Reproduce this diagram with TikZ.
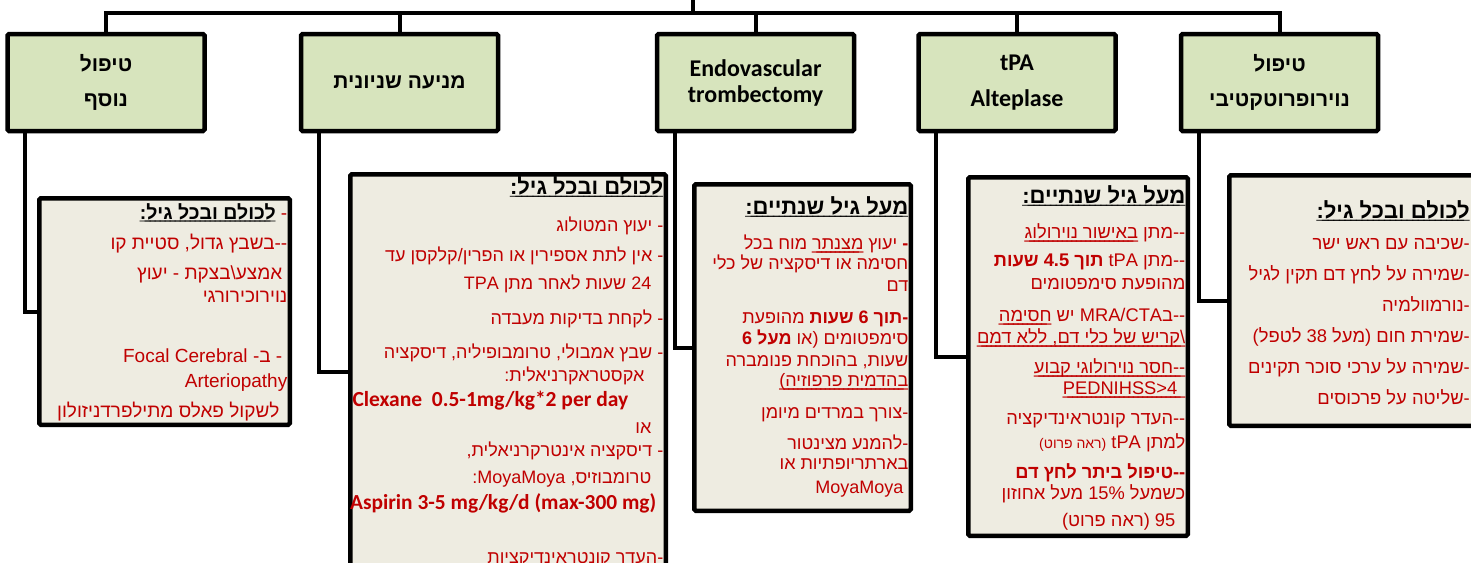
\documentclass[tikz,border=0pt]{standalone}
\usepackage{fontspec}
\setmainfont{Liberation Sans}
\newfontfamily\hebred[Script=Hebrew, Color=C00000]{Liberation Sans}
\newfontfamily\hebblack[Script=Hebrew, Color=010101]{Liberation Sans}
\newfontfamily\calred[Color=C00000]{Carlito}
\newfontfamily\calblack[Color=010101]{Carlito}
\TeXXeTstate=1
\usetikzlibrary{positioning}

\definecolor{headgreen}{HTML}{D7E4BD}
\definecolor{notegray}{HTML}{EEECE1}

\newsavebox\ulbox
\newcommand{\rl}[1]{\beginR #1\endR}
\newcommand{\lr}[1]{\beginL #1\endL}
% underline drawn with the font's own underscore, so it takes the text colour
\newcommand{\uln}[1]{\setbox\ulbox=\hbox{\rl{#1}}\hbox{\rlap{\hbox to\dimexpr\wd\ulbox-0.3em\relax{\xleaders\hbox to 0.25em{\_\hss}\hfill}}\box\ulbox}}
\newcommand{\headln}[2][22]{\hbox{\hebblack\bfseries\fontsize{#1}{#1}\selectfont\uln{#2}}}

\tikzset{
  headbox/.style={draw, line width=4.5pt, fill=headgreen, rounded corners=1.5pt,
    minimum width=197pt, minimum height=97pt, align=center,
    font={\hebblack\bfseries\fontsize{21}{35}\selectfont}},
  notebox/.style={draw, line width=4.5pt, fill=notegray, rounded corners=1.5pt},
  notetext/.style={anchor=north east, inner sep=0pt, align=right},
  link/.style={line width=4pt}
}

\begin{document}
\begin{tikzpicture}[x=1pt, y=-1pt]
\useasboundingbox (0,0) rectangle (1471,562);

% header row
\node[headbox] (nosaf) at (106,82.5) {\rl{טיפול}\\\rl{נוסף}};
\node[headbox] (shniyonit) at (399.5,82.5) {\rl{מניעה שניונית}};
\node[headbox, font={\calblack\bfseries\fontsize{24}{26}\selectfont}] (endo) at (755.5,82.5) {Endovascular\\trombectomy};
\node[headbox, font={\calblack\bfseries\fontsize{24}{36}\selectfont}] (tpa) at (1017,82.5) {tPA\\Alteplase};
\node[headbox] (neuro) at (1279.5,82.5) {\rl{טיפול}\\\rl{נוירופרוטקטיבי}};

% bus on top
\coordinate (root) at (693,0);
\coordinate (bus) at (0,12.5);
\draw[link] (nosaf.north) -- (nosaf.north |- bus) -| (neuro.north);
\foreach \n in {shniyonit,endo,tpa}
  \draw[link] (\n.north) -- (\n.north |- bus);
\draw[link] (root) -- (root |- bus);

% note boxes
\node[notebox, minimum width=250.5pt, minimum height=226.5pt] (nosafnote) at (164.5,311.5) {};
\node[notebox, minimum width=315.5pt, minimum height=395.5pt] (shniyonitnote) at (508,372) {};
\node[notebox, minimum width=216.5pt, minimum height=326.5pt] (endonote) at (802.5,347.5) {};
\node[notebox, minimum width=219.5pt, minimum height=358.5pt] (tpanote) at (1078,356.5) {};
\node[notebox, minimum width=244.5pt, minimum height=250.5pt] (neuronote) at (1351.5,300.5) {};

\foreach \n in {nosaf,shniyonit,endo,tpa,neuro}
  \draw[link] ([xshift=20pt]\n.south west) |- (\n note.west);

% texts
\node[notetext, font={\hebred\fontsize{19}{23}\selectfont\lineskiplimit=-100pt}] (nosaftext) at ([xshift=-4.5pt, yshift=-7pt]nosafnote.north east) {%
\rl{- \headln[19.5]{לכולם ובכל גיל:}}\\[7pt]
\rl{--בשבץ גדול, סטיית קו}\\[7pt]
\rl{אמצע\textbackslash בצקת - יעוץ}\kern5pt\\
\rl{נוירוכירורגי}\\[37pt]
\rl{- ב- \lr{Focal Cerebral}}\kern5pt\\[2pt]
\rl{Arteriopathy}\\[7pt]
\rl{לשקול פאלס מתילפרדניזולון}\kern8pt};

\node[notetext, font={\hebred\fontsize{18}{24}\selectfont\lineskiplimit=-100pt}] (shniyonittext) at ([xshift=-4.5pt, yshift=-4pt]shniyonitnote.north east) {%
\rl{\headln{לכולם ובכל גיל:}}\\[13pt]
\rl{- יעוץ המטולוג}\\[6pt]
\rl{- אין לתת אספירין או הפרין/קלקסן עד}\\[4pt]
\rl{24 שעות לאחר מתן TPA}\kern12pt\\[11pt]
\rl{- לקחת בדיקות מעבדה}\\[10pt]
\rl{- שבץ אמבולי, טרומבופיליה, דיסקציה}\\[-1pt]
\rl{אקסטראקרניאלית:}\kern19pt\\[1pt]
{\calred\bfseries\fontsize{21.5}{24}\selectfont Clexane\ \ 0.5-1mg/kg*2 per day}\kern35pt\\[3pt]
\rl{או}\kern12pt\\[-1pt]
\rl{- דיסקציה אינטרקרניאלית,}\\[3pt]
\rl{טרומבוזיס, \lr{MoyaMoya}:}\kern12pt\\[2pt]
{\calred\bfseries\fontsize{21.4}{24}\selectfont Aspirin 3-5 mg/kg/d (max-300 mg)}\kern7pt\\[30pt]
\rl{-העדר קונטראינדיקציות}};

\node[notetext, font={\hebred\fontsize{18}{21}\selectfont\lineskiplimit=-100pt}] (endotext) at ([xshift=-4.5pt, yshift=-14pt]endonote.north east) {%
\rl{\headln{מעל גיל שנתיים:}}\\[14pt]
\rl{\textbf{-} יעוץ \uln{מצנתר} מוח בכל}\\[-1pt]
\rl{חסימה או דיסקציה של כלי}\\[1pt]
\rl{דם}\\[11pt]
\rl{\textbf{-תוך 6 שעות} מהופעת}\\
\rl{סימפטומים (או \textbf{מעל 6}}\\[1pt]
\rl{שעות, בהוכחת פנומברה}\\[-1pt]
\rl{\uln{בהדמית פרפוזיה)}}\\[11pt]
\rl{-צורך במרדים מיומן}\\[10pt]
\rl{-להמנע מצינטור}\\[-1pt]
\rl{בארתריופתיות או}\\[3pt]
\rl{MoyaMoya}\kern5pt};

\node[notetext, font={\hebred\fontsize{18.3}{22}\selectfont\lineskiplimit=-100pt}] (tpatext) at ([xshift=-4.5pt, yshift=-10pt]tpanote.north east) {%
\rl{\headln{מעל גיל שנתיים:}}\\[13pt]
\rl{--מתן \uln{באישור נוירולוג}}\\[6pt]
\rl{--מתן tPA \textbf{תוך 4.5 שעות}}\\[1pt]
\rl{מהופעת סימפטומים}\\[10pt]
\rl{--ב\lr{MRA/CTA} יש \uln{חסימה}}\\
\uln{\textbackslash קריש של כלי דם, ללא דמם}\\[8pt]
\uln{--חסר נוירולוגי קבוע}\\[-1pt]
\uln{\kern8pt PEDNIHSS>4}\\[8pt]
\rl{--העדר קונטראינדיקציה}\\[2pt]
\rl{למתן tPA {\fontsize{14}{22}\selectfont(ראה פרוט)}}\\[8pt]
\rl{\textbf{--טיפול ביתר לחץ דם}}\\[-1pt]
\rl{כשמעל 15\% מעל אחוזון}\\[5pt]
\rl{95 (ראה פרוט)}\kern10pt};

\node[notetext, font={\hebred\fontsize{18.4}{31}\selectfont\lineskiplimit=-100pt}] (neurotext) at ([xshift=-6pt, yshift=-27pt]neuronote.north east) {%
\rl{\headln{לכולם ובכל גיל:}}\\
\rl{-שכיבה עם ראש ישר}\\
\rl{-שמירה על לחץ דם תקין לגיל}\\
\rl{-נורמוולמיה}\\
\rl{-שמירת חום (מעל 38 לטפל)}\\
\rl{-שמירה על ערכי סוכר תקינים}\\
\rl{-שליטה על פרכוסים}};

\end{tikzpicture}
\end{document}
